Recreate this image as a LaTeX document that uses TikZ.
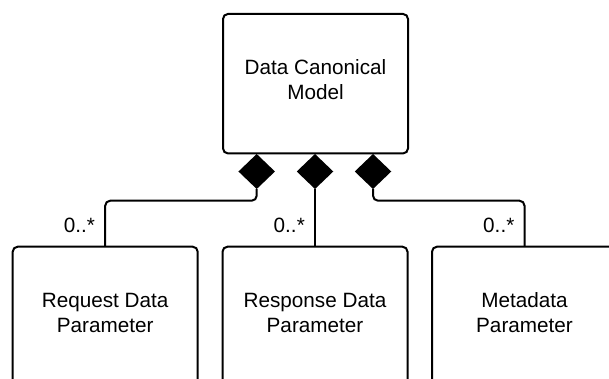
\documentclass[tikz,border=0pt]{standalone}
\usepackage{fontspec}
\setmainfont{Liberation Sans}
\usetikzlibrary{shapes.geometric,calc}
\begin{document}
\begin{tikzpicture}[x=1pt,y=-1pt,
  box/.style={draw=black, line width=2pt, rounded corners=5pt, fill=white,
    minimum width=185pt, inner sep=0pt, outer sep=0pt, align=center,
    text height=40.4pt, text depth=8pt,
    font=\fontsize{20.7}{25}\selectfont},
  comp/.style={diamond, fill=black, draw=none, minimum width=36.5pt, minimum height=35pt,
    inner sep=0pt, outer sep=0pt, anchor=north},
  conn/.style={draw=black, line width=2pt, rounded corners=5pt},
  mult/.style={anchor=base east, inner sep=0pt, font=\fontsize{20.7}{25}\selectfont}]
\useasboundingbox (0,0) rectangle (609,378);
\clip (0,0) rectangle (609,378);
\node[box, minimum height=139.5pt] (top) at (315.5,83.7) {Data Canonical\\Model};
\node[box, minimum height=140pt] (req) at (105.2,316.7) {Request Data\\Parameter};
\node[box, minimum height=140pt] (res) at (315,316.7) {Response Data\\Parameter};
\node[box, minimum height=140pt] (meta) at (524.5,316.7) {Metadata\\Parameter};
\node[comp] (d1) at (256.7,154) {};
\node[comp] (d2) at (315,154) {};
\node[comp] (d3) at (373,154) {};
\coordinate (bend) at (0,200.7);
\draw[conn] (d1.south) |- (req.north |- bend) -- (req.north);
\draw[conn] (d2.south) -- (res.north);
\draw[conn] (d3.south) |- (meta.north |- bend) -- (meta.north);
\node[mult] (m1) at ($(req.north)+(-10,-14)$) {0..*};
\node[mult] (m2) at ($(res.north)+(-10,-14)$) {0..*};
\node[mult] (m3) at ($(meta.north)+(-10,-14)$) {0..*};
\end{tikzpicture}
\end{document}
